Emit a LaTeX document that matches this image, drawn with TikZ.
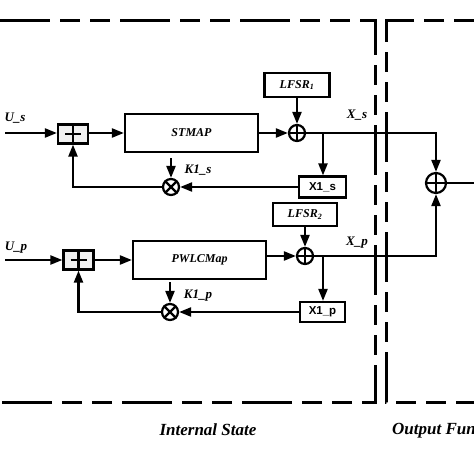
\documentclass[tikz,border=0pt]{standalone}
\usepackage{fontspec}
\setmainfont{Liberation Serif}
\setsansfont{Liberation Sans}
\usetikzlibrary{arrows.meta,positioning}
\tikzset{>={Triangle[length=12pt,width=9pt]},
	blk/.style={draw,line width=2.2pt,inner sep=0pt,font=\fontsize{12}{14}\selectfont\bfseries\itshape},
	regbox/.style={draw,line width=2.2pt,inner sep=0pt,font=\fontsize{11.5}{13}\selectfont\sffamily\bfseries},
	addbox/.style={draw,fill=gray!12,line width=2.2pt,minimum width=30pt,minimum height=19pt,inner sep=0pt},
	xorc/.style={circle,draw,line width=2.2pt,minimum size=16pt,inner sep=0pt},
	lbl/.style={inner sep=0pt,font=\fontsize{13}{15}\selectfont\bfseries\itshape},
	wire/.style={line width=2.2pt},
	bound/.style={line width=3pt,dash pattern=on 50pt off 10pt on 20pt off 10pt on 20pt off 10pt}}
\begin{document}
\begin{tikzpicture}[x=1pt,y=-1pt]
	\useasboundingbox (0,0) rectangle (474,474);
	\draw [bound] (0,20) -- (375,20) -- (375,402) -- (0,402);
	\draw [bound,dash phase=60pt] (474,20) -- (386,20) -- (386,402) -- (474,402);
	\node (A1) at (73,134) [addbox] {};
	\node (SM) at (191.5,133) [blk,minimum width=133pt,minimum height=38pt] {STMAP};
	\node (L1) at (297,85) [blk,minimum width=65pt,minimum height=24pt] {LFSR\textsubscript{1}};
	\node (X1) at (297,133) [xorc] {};
	\node (R1) at (322.5,187) [regbox,minimum width=47pt,minimum height=21pt] {X1\_s};
	\node (M1) at (171,187) [xorc] {};
	\node (A2) at (78.5,260) [addbox] {};
	\node (PM) at (199.5,260) [blk,minimum width=133pt,minimum height=38pt] {PWLCMap};
	\node (L2) at (305,214.5) [blk,minimum width=64pt,minimum height=23pt] {LFSR\textsubscript{2}};
	\node (X2) at (305,256) [xorc] {};
	\node (R2) at (322.5,312) [regbox,minimum width=45pt,minimum height=20pt] {X1\_p};
	\node (M2) at (170,312) [xorc] {};
	\node (OX) at (436,183) [xorc,minimum size=20pt] {};
	\coordinate (in1) at (5,133);
	\coordinate (in2) at (5,260);
	\coordinate (b1) at (323,133);
	\coordinate (b2) at (323,256);
	\coordinate (k1) at (171,158);
	\coordinate (k2) at (170,282);
	\coordinate (out) at (480,183);
	\node (us) at (15,118) [lbl] {U\_s};
	\node (up) at (16,248) [lbl] {U\_p};
	\node (ks) at (198,170) [lbl] {K1\_s};
	\node (kp) at (198,296) [lbl] {K1\_p};
	\node (xs) at (357,115) [lbl] {X\_s};
	\node (xp) at (357,243) [lbl] {X\_p};
	\node (IS) at (208,430) [lbl,font=\fontsize{17}{19}\selectfont\bfseries\itshape] {Internal State};
	\node (OF) at (392,430) [lbl,anchor=west,font=\fontsize{17}{19}\selectfont\bfseries\itshape] {Output Function};
	\draw [wire] (A1.north) -- (A1.south) ([xshift=-8pt]A1.center) -- ([xshift=8pt]A1.center);
	\draw [wire] (A2.north) -- (A2.south) ([xshift=-8pt]A2.center) -- ([xshift=8pt]A2.center);
	\draw [wire] (X1.north) -- (X1.south) (X1.west) -- (X1.east);
	\draw [wire] (X2.north) -- (X2.south) (X2.west) -- (X2.east);
	\draw [wire] (OX.north) -- (OX.south) (OX.west) -- (OX.east);
	\draw [wire,shorten <=1.5pt,shorten >=1.5pt] (M1.north west) -- (M1.south east) (M1.north east) -- (M1.south west);
	\draw [wire,shorten <=1.5pt,shorten >=1.5pt] (M2.north west) -- (M2.south east) (M2.north east) -- (M2.south west);
	\draw [wire,->] (in1) -- (A1.west |- in1);
	\draw [wire,->] (A1.east |- in1) -- (SM.west |- in1);
	\draw [wire,->] (SM) -- (X1);
	\draw [wire,->] (L1) -- (X1);
	\draw [wire] (X1) -- (b1);
	\draw [wire,->] (b1) -- (b1 |- R1.north);
	\draw [wire,->] (R1) -- (M1);
	\draw [wire,->] (k1) -- (M1);
	\draw [wire,->] (M1) -| (A1);
	\draw [wire,->] (b1) -| (OX);
	\draw [wire] (OX) -- (out);
	\draw [wire,->] (in2) -- (A2);
	\draw [wire,->] (A2) -- (PM);
	\draw [wire,->] (PM.east |- X2) -- (X2);
	\draw [wire,->] (L2) -- (X2);
	\draw [wire] (X2) -- (b2);
	\draw [wire,->] (b2) -- (b2 |- R2.north);
	\draw [wire,->] (R2) -- (M2);
	\draw [wire,->] (k2) -- (M2);
	\draw [wire,->] (M2) -| (A2);
	\draw [wire,->] (b2) -| (OX);
\end{tikzpicture}
\end{document}
